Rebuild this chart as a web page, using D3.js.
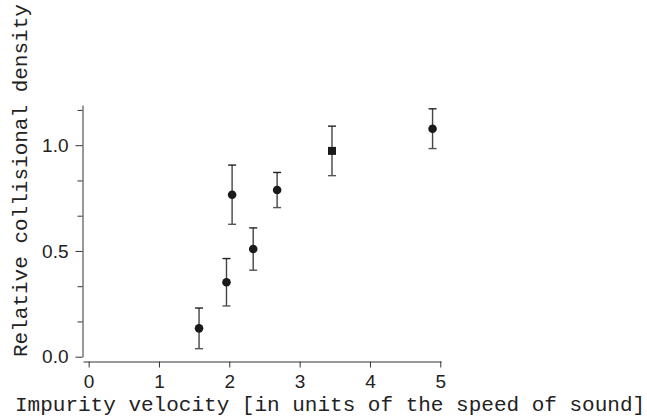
<!DOCTYPE html>
<html>
<head>
<meta charset="utf-8">
<script src="https://cdn.jsdelivr.net/npm/d3@7"></script>
<style>
  html, body { margin: 0; padding: 0; background: #fff; }
  svg { display: block; }
</style>
</head>
<body>
<script>
// Measured collisional density versus impurity velocity
const velocity = [1.57, 1.96, 2.04, 2.34, 2.68, 3.46, 4.89];
const density  = [0.134, 0.352, 0.766, 0.509, 0.788, 0.973, 1.078];
const densityErr = [0.096, 0.112, 0.140, 0.100, 0.083, 0.117, 0.094];
const markerShape = ["circle", "circle", "circle", "circle", "circle", "square", "circle"];

const xTicks = [0, 1, 2, 3, 4, 5];
const yMajorTicks = [0, 0.5, 1.0];
const yMinorTicks = [1/6, 2/6, 4/6, 5/6, 7/6];

const xTitle = "Impurity velocity [in units of the speed of sound]";
const yTitle = "Relative collisional density";

const W = 647, H = 419;
const svg = d3.select("body").append("svg").attr("width", W).attr("height", H);
svg.append("rect").attr("width", W).attr("height", H).attr("fill", "#fff");

const x = d3.scaleLinear().domain([-0.08, 5.01]).range([83, 441]);
const y = d3.scaleLinear().domain([0, 1.19]).range([356.7, 105]);

const axisColor = "#333";
const tickFont = "'Liberation Sans', Arial, sans-serif";
const titleFont = "'Liberation Mono', 'Courier New', monospace";

// x axis, offset below the plot
const gx = svg.append("g").attr("transform", "translate(0,361.5)")
  .call(d3.axisBottom(x).tickValues(xTicks).tickFormat(d3.format("d")).tickSize(6).tickPadding(7).tickSizeOuter(0));
gx.select(".domain").attr("stroke", axisColor);
gx.selectAll(".tick line").attr("stroke", axisColor);
gx.selectAll(".tick text").attr("font-family", tickFont).attr("font-size", 19).attr("fill", "#222");

// y axis, major ticks with labels
const gy = svg.append("g").attr("transform", "translate(82.5,0)")
  .call(d3.axisLeft(y).tickValues(yMajorTicks).tickFormat(d3.format(".1f")).tickSize(7).tickPadding(7).tickSizeOuter(0));
gy.select(".domain").attr("stroke", axisColor);
gy.selectAll(".tick line").attr("stroke", axisColor);
gy.selectAll(".tick text").attr("font-family", tickFont).attr("font-size", 19).attr("fill", "#222");

// y axis minor ticks
const gyMinor = svg.append("g").attr("transform", "translate(82.5,0)")
  .call(d3.axisLeft(y).tickValues(yMinorTicks).tickFormat("").tickSize(5).tickSizeOuter(0));
gyMinor.select(".domain").remove();
gyMinor.selectAll(".tick line").attr("stroke", axisColor);

// axis titles
svg.append("text")
  .attr("x", 15).attr("y", 411)
  .attr("font-family", titleFont).attr("font-size", 21).attr("fill", "#222")
  .text(xTitle);

svg.append("text")
  .attr("transform", "translate(27,357) rotate(-90)")
  .attr("font-family", titleFont).attr("font-size", 21).attr("fill", "#222")
  .text(yTitle);

// error bars
const pts = velocity.map((v, i) => ({ v, d: density[i], e: densityErr[i], shape: markerShape[i] }));
const eb = svg.append("g");
eb.selectAll("line.bar").data(pts).join("line").attr("class", "bar")
  .attr("x1", p => x(p.v)).attr("x2", p => x(p.v))
  .attr("y1", p => y(p.d + p.e)).attr("y2", p => y(p.d - p.e))
  .attr("stroke", "#444").attr("stroke-width", 1.4);
eb.selectAll("line.capTop").data(pts).join("line").attr("class", "capTop")
  .attr("x1", p => x(p.v) - 4).attr("x2", p => x(p.v) + 4)
  .attr("y1", p => y(p.d + p.e)).attr("y2", p => y(p.d + p.e))
  .attr("stroke", "#222").attr("stroke-width", 1.4);
eb.selectAll("line.capBot").data(pts).join("line").attr("class", "capBot")
  .attr("x1", p => x(p.v) - 4).attr("x2", p => x(p.v) + 4)
  .attr("y1", p => y(p.d - p.e)).attr("y2", p => y(p.d - p.e))
  .attr("stroke", "#555").attr("stroke-width", 1.4);

// markers
const sym = { circle: d3.symbolCircle, square: d3.symbolSquare };
svg.append("g").selectAll("path").data(pts).join("path")
  .attr("transform", p => `translate(${x(p.v)},${y(p.d)})`)
  .attr("d", p => d3.symbol().type(sym[p.shape]).size(p.shape === "square" ? 64 : 58)())
  .attr("fill", "#1a1a1a");
</script>
</body>
</html>
